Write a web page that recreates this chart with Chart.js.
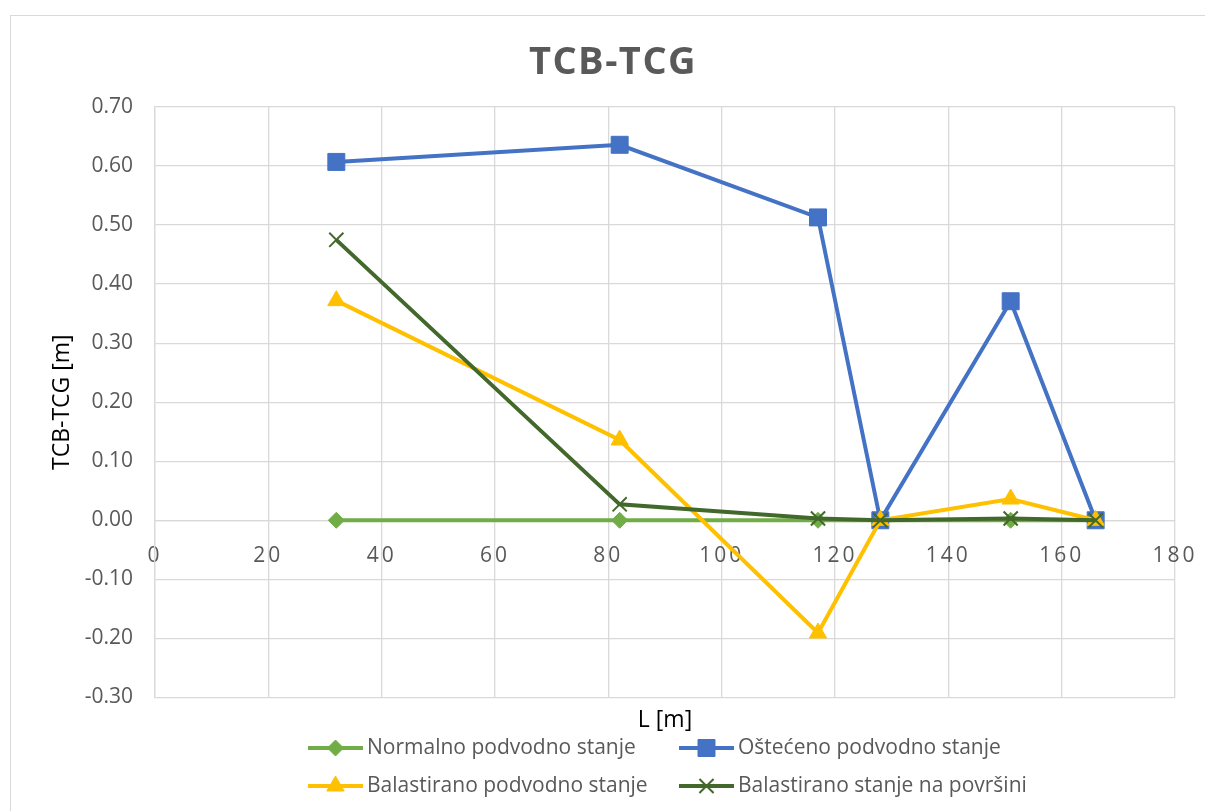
<!DOCTYPE html>
<html>
<head>
<meta charset="utf-8">
<title>TCB-TCG</title>
<script src="https://cdn.jsdelivr.net/npm/chart.js@4.4.0/dist/chart.umd.min.js"></script>
<style>
    html, body { margin: 0; padding: 0; background: #fff; overflow: hidden; }
    #wrap { position: relative; width: 1205px; height: 811px; }
    #frame { position: absolute; left: 10px; top: 15px; width: 1300px; height: 900px; border: 1px solid #d9d9d9; }
    #chart { position: absolute; left: 0; top: 0; }
</style>
</head>
<body>
<div id="wrap">
    <div id="frame"></div>
    <canvas id="chart" width="1205" height="811"></canvas>
</div>
<script>
// L [m] positions along the ship
const lengths = [32, 82, 117, 128, 151, 166];

// TCB-TCG [m] per loading condition
const normalno = [0, 0, 0, 0, 0, 0];
const osteceno = [0.607, 0.636, 0.513, 0, 0.371, 0];
const balastiranoPodvodno = [0.372, 0.136, -0.191, 0, 0.036, 0];
const balastiranoPovrsina = [0.475, 0.027, 0.003, 0, 0.003, 0];

const seriesNames = [
    'Normalno podvodno stanje',
    'Oštećeno podvodno stanje',
    'Balastirano podvodno stanje',
    'Balastirano stanje na površini'
];

const FONT = "'Open Sans', 'DejaVu Sans', sans-serif";

function toPoints(values) {
    return lengths.map((x, i) => ({ x: x, y: values[i] }));
}

function makeSeries(label, values, color, style, radius, order) {
    return {
        label: label,
        data: toPoints(values),
        borderColor: color,
        backgroundColor: color,
        borderWidth: 4,
        pointStyle: style,
        pointRadius: radius,
        pointHoverRadius: radius,
        pointBackgroundColor: color,
        pointBorderColor: color,
        pointBorderWidth: style === 'crossRot' ? 2 : 1,
        tension: 0,
        order: order
    };
}

// x tick labels are letter-spaced in the original
const spacedXLabels = {
    id: 'spacedXLabels',
    beforeDraw(chart) {
        const sc = chart.scales.x;
        if (sc._spaced) return;
        const orig = sc.drawLabels.bind(sc);
        sc.drawLabels = function(area) {
            chart.ctx.save();
            chart.ctx.letterSpacing = '3px';
            orig(area);
            chart.ctx.restore();
        };
        sc._spaced = true;
    }
};

const chartTitle = {
    id: 'chartTitle',
    afterDraw(chart) {
        const ctx = chart.ctx;
        ctx.save();
        ctx.font = 'bold 38px ' + FONT;
        ctx.letterSpacing = '1.5px';
        ctx.fillStyle = '#595959';
        ctx.textAlign = 'center';
        ctx.textBaseline = 'middle';
        ctx.fillText('TCB-TCG', 613, 63);
        ctx.restore();
    }
};

// two-column legend like Excel's
const gridLegend = {
    id: 'gridLegend',
    afterDraw(chart) {
        const ctx = chart.ctx;
        chart.data.datasets.forEach((ds, i) => {
            const x0 = 308 + (i % 2) * 371;
            const y = 748 + Math.floor(i / 2) * 38;
            ctx.save();
            ctx.strokeStyle = ds.borderColor;
            ctx.lineWidth = 4;
            ctx.beginPath();
            ctx.moveTo(x0, y);
            ctx.lineTo(x0 + 55, y);
            ctx.stroke();
            ctx.fillStyle = ds.pointBackgroundColor;
            ctx.strokeStyle = ds.pointBorderColor;
            ctx.lineWidth = ds.pointBorderWidth;
            Chart.helpers.drawPoint(ctx, {
                pointStyle: ds.pointStyle,
                radius: ds.pointRadius,
                borderWidth: ds.pointBorderWidth,
                rotation: 0
            }, x0 + 27.5, y);
            ctx.font = '21px ' + FONT;
            ctx.fillStyle = '#595959';
            ctx.textAlign = 'left';
            ctx.textBaseline = 'middle';
            ctx.fillText(ds.label, x0 + 59, y);
            ctx.restore();
        });
    }
};

function noSidePadding(scale) {
    scale.paddingLeft = 0;
    scale.paddingRight = 0;
}

const ctx = document.getElementById('chart').getContext('2d');
const tcbChart = new Chart(ctx, {
    type: 'line',
    data: {
        datasets: [
            makeSeries(seriesNames[0], normalno, '#70ad47', 'rectRot', 8, 4),
            makeSeries(seriesNames[1], osteceno, '#4472c4', 'rect', 12, 3),
            makeSeries(seriesNames[2], balastiranoPodvodno, '#ffc000', 'triangle', 10, 2),
            makeSeries(seriesNames[3], balastiranoPovrsina, '#43682b', 'crossRot', 10, 1)
        ]
    },
    options: {
        responsive: false,
        animation: false,
        layout: { padding: { top: 107, right: 30, bottom: 77, left: 0 } },
        plugins: {
            legend: { display: false },
            title: { display: false },
            tooltip: { enabled: false }
        },
        scales: {
            x: {
                type: 'linear',
                position: { y: 0 },
                min: 0,
                max: 180,
                ticks: {
                    stepSize: 20,
                    color: '#595959',
                    font: { family: FONT, size: 21 },
                    padding: 23,
                    maxRotation: 0
                },
                grid: { color: '#d9d9d9', lineWidth: 1.3, drawTicks: false },
                border: { color: '#d9d9d9', width: 1.3 },
                afterFit: noSidePadding
            },
            xTitle: {
                type: 'linear',
                position: 'bottom',
                axis: 'x',
                ticks: { display: false },
                grid: { display: false, drawTicks: false },
                border: { display: false },
                title: {
                    display: true,
                    text: 'L [m]',
                    color: '#000',
                    font: { family: FONT, size: 23 },
                    padding: { top: 9, bottom: 0 }
                },
                afterFit: noSidePadding
            },
            y: {
                type: 'linear',
                min: -0.3,
                max: 0.7,
                ticks: {
                    stepSize: 0.1,
                    color: '#595959',
                    font: { family: FONT, size: 21 },
                    padding: 22,
                    callback: v => v.toFixed(2)
                },
                grid: { color: '#d9d9d9', lineWidth: 1.3, drawTicks: false },
                border: { color: '#d9d9d9', width: 1.3 },
                title: {
                    display: true,
                    text: 'TCB-TCG [m]',
                    color: '#000',
                    font: { family: FONT, size: 23 },
                    padding: { top: 49, bottom: 0 }
                },
                afterFit: scale => { scale.width = 155; }
            }
        }
    },
    plugins: [spacedXLabels, chartTitle, gridLegend]
});
</script>
</body>
</html>
